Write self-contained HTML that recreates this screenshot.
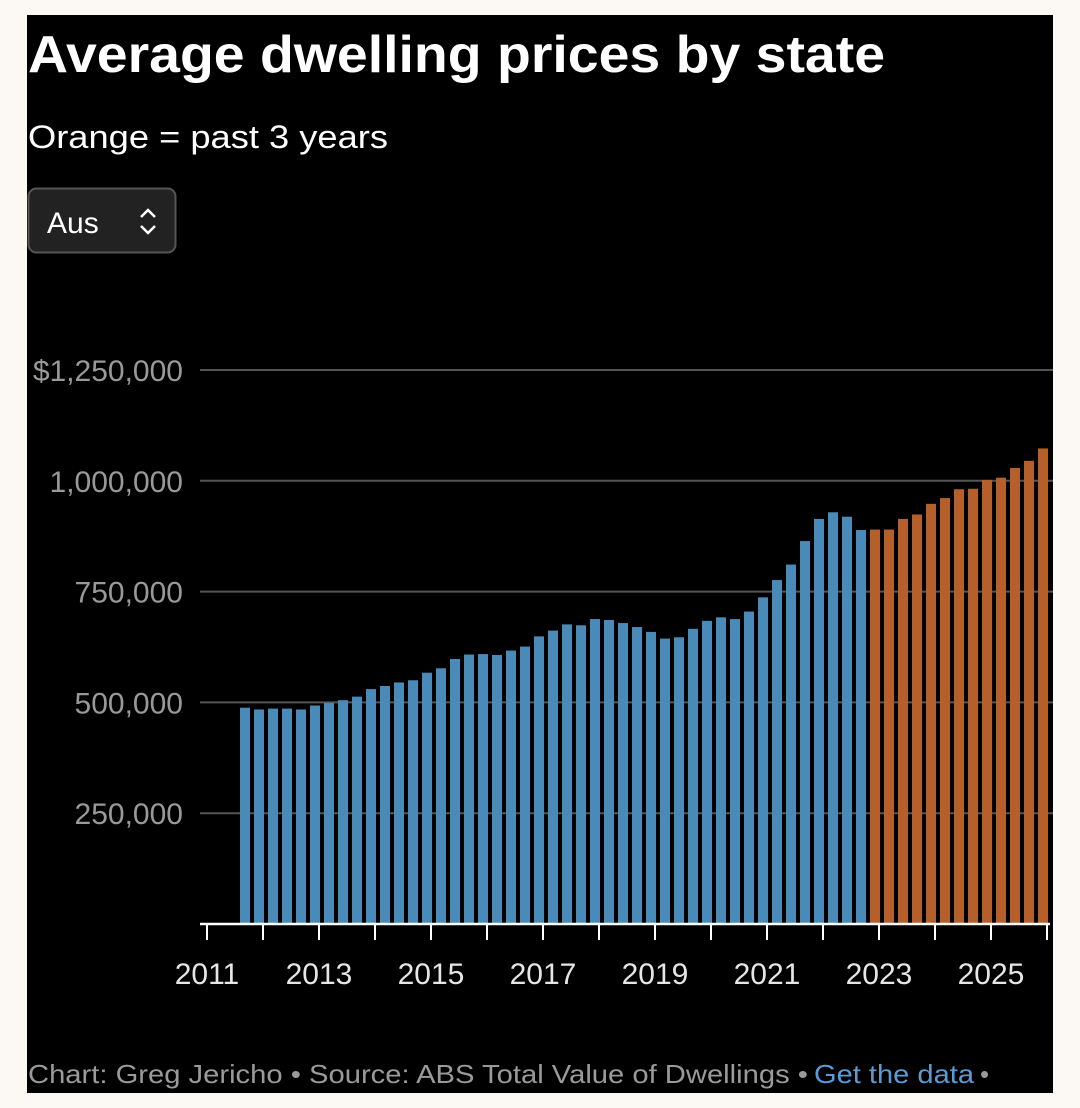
<!DOCTYPE html>
<html><head><meta charset="utf-8"><style>
html,body{margin:0;padding:0;background:#fcf8f4;}
svg{display:block;font-family:"Liberation Sans",sans-serif;}
</style></head><body>
<svg width="1080" height="1108" viewBox="0 0 1080 1108">
<rect x="0" y="0" width="1080" height="1108" fill="#fcf8f4"/>
<rect x="27" y="15" width="1026" height="1078" fill="#000"/>
<text x="28" y="72" font-size="52" font-weight="bold" fill="#fff" textLength="857" lengthAdjust="spacingAndGlyphs">Average dwelling prices by state</text>
<text x="28" y="148" font-size="32" fill="#fff" textLength="360" lengthAdjust="spacingAndGlyphs">Orange = past 3 years</text>
<g>
<rect x="28.5" y="188.5" width="147" height="64" rx="8" fill="#222" stroke="#555" stroke-width="2"/>
<text x="47" y="233" font-size="30" fill="#fff">Aus</text>
<path d="M141 217 L148 210 L155 217 M141 226 L148 233 L155 226" stroke="#fff" stroke-width="2.5" fill="none"/>
</g>
<g id="grid"></g>
<g id="bars"></g>
<g id="xaxis"></g>
<text x="28" y="1083" font-size="26" fill="#9a9a9a" textLength="780" lengthAdjust="spacingAndGlyphs">Chart: Greg Jericho • Source: ABS Total Value of Dwellings •</text>
<text x="814" y="1083" font-size="26" fill="#5b9bd5" textLength="160" lengthAdjust="spacingAndGlyphs">Get the data</text>
<text x="980" y="1083" font-size="26" fill="#9a9a9a">•</text>
</svg>
<script>
const startQuarter = 2; // 2011 Q3
const values = [488000,484000,486000,486000,484000,493000,499000,505000,513000,530000,537000,545000,550000,567000,577000,598000,608000,609000,607000,617000,626000,649000,
662000,676000,674000,688000,686000,679000,670000,659000,644000,647000,666000,684000,692000,688000,705000,737000,776000,811000,864000,914000,929000,919000,889000,
890000,890000,914000,924000,948000,961000,981000,982000,1002000,1007000,1029000,1045000,1073000];
const orangeFrom = 45; // index of first orange bar
const yTicks = [250000,500000,750000,1000000,1250000];
const yTickLabels = ["250,000","500,000","750,000","1,000,000","$1,250,000"];
const xYears = [2011,2012,2013,2014,2015,2016,2017,2018,2019,2020,2021,2022,2023,2024,2025,2026];
const xLabelYears = [2011,2013,2015,2017,2019,2021,2023,2025];
const NS="http://www.w3.org/2000/svg";
const y0=924, pxPer=110.8/250000;
const yS=v=>y0-v*pxPer;
const xYear=yr=>207+(yr-2011)*56;
const xQ=q=>207+q*14+10;
function mk(tag,attrs,parent){const e=document.createElementNS(NS,tag);for(const k in attrs)e.setAttribute(k,attrs[k]);parent.appendChild(e);return e;}
const grid=document.getElementById('grid');
yTicks.forEach((t,i)=>{
  const l=mk('line',{x1:200,x2:1053,y1:yS(t),y2:yS(t),stroke:'#555','stroke-width':2},grid);
  
  
  const tx=mk('text',{x:183,y:yS(t)+11,'font-size':30,fill:'#999','text-anchor':'end'},grid);
  tx.textContent=yTickLabels[i];
  
  
});
const bars=document.getElementById('bars');
values.forEach((v,i)=>{
  const cx=xQ(startQuarter+i);
  const r=mk('rect',{x:cx-5,y:yS(v),width:10,height:y0-yS(v),fill:i>=orangeFrom?'#b5602a':'#4a8ab8'},bars);
  
  
});
const xa=document.getElementById('xaxis');
const al=mk('line',{x1:200,x2:1050,y1:y0,y2:y0,stroke:'#fff','stroke-width':2.5},xa);


xYears.forEach(yr=>{
  const t=mk('line',{x1:xYear(yr),x2:xYear(yr),y1:y0,y2:940,stroke:'#fff','stroke-width':2},xa);
  
  
});
xLabelYears.forEach(yr=>{
  const t=mk('text',{x:xYear(yr),y:984,'font-size':30,fill:'#e6e6e6','text-anchor':'middle'},xa);
  t.textContent=yr;
  
  
});
</script>
</body></html>
